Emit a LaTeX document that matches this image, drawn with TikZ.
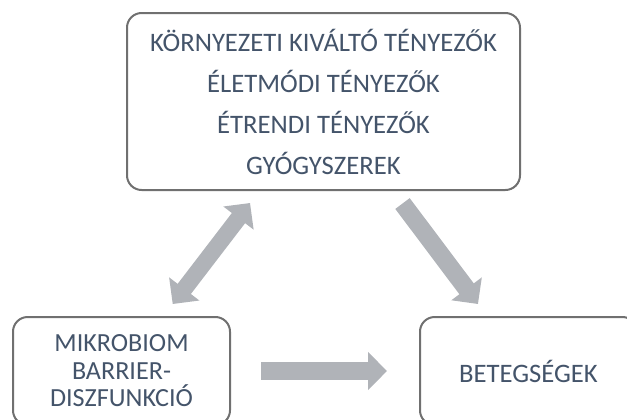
\documentclass[tikz,border=0pt]{standalone}
\usepackage{fontspec}
\setmainfont{Carlito}
\usetikzlibrary{arrows.meta}
\definecolor{boxgray}{RGB}{112,112,112}
\definecolor{arrowgray}{RGB}{176,179,184}
\definecolor{textslate}{RGB}{68,84,106}
\tikzset{
	box/.style={draw=boxgray,line width=1.5pt,rounded corners=11pt,fill=white,text=textslate,align=center,inner sep=0pt},
	bigarrow/.style={draw=arrowgray,line width=13.5pt,-{Triangle[length=14.25pt,width=27.75pt]}},
	bigarrows/.style={draw=arrowgray,line width=12.5pt,{Triangle[length=14.25pt,width=27.75pt]}-{Triangle[length=14.25pt,width=27.75pt]}}
}
\begin{document}
\begin{tikzpicture}[x=0.75pt,y=-0.75pt]
		\useasboundingbox (0,0) rectangle (627,419);
		\begin{scope}
			\node[box,minimum width=294.75pt,minimum height=132.75pt,font=\fontsize{20}{30.75}\selectfont] (kornyezet) at (323.5,101.5) {K\"ORNYEZETI KIV\'ALT\'O T\'ENYEZ\H{O}K\\\'ELETM\'ODI T\'ENYEZ\H{O}K\\\'ETRENDI T\'ENYEZ\H{O}K\\GY\'OGYSZEREK};
			\node[box,minimum width=162.75pt,minimum height=81pt,font=\fontsize{19.6}{20.6}\selectfont] (mikro) at (121.5,371) {MIKROBIOM\\BARRIER-\\DISZFUNKCI\'O};
			\node[box,minimum width=162.75pt,minimum height=81pt,font=\fontsize{20}{20.6}\selectfont] (beteg) at (528.5,371) {BETEGS\'EGEK};
		\end{scope}
		\draw[bigarrows] ([xshift=38.4pt,yshift=9pt]mikro.north) -- ([xshift=-55.1pt,yshift=-9pt]kornyezet.south);
		\draw[bigarrow] ([xshift=59.25pt,yshift=-9.4pt]kornyezet.south) -- ([xshift=-37.9pt,yshift=9pt]beteg.north);
		\draw[bigarrow] ([xshift=22.5pt]mikro.east) -- ([xshift=-24pt]beteg.west);
\end{tikzpicture}
\end{document}
